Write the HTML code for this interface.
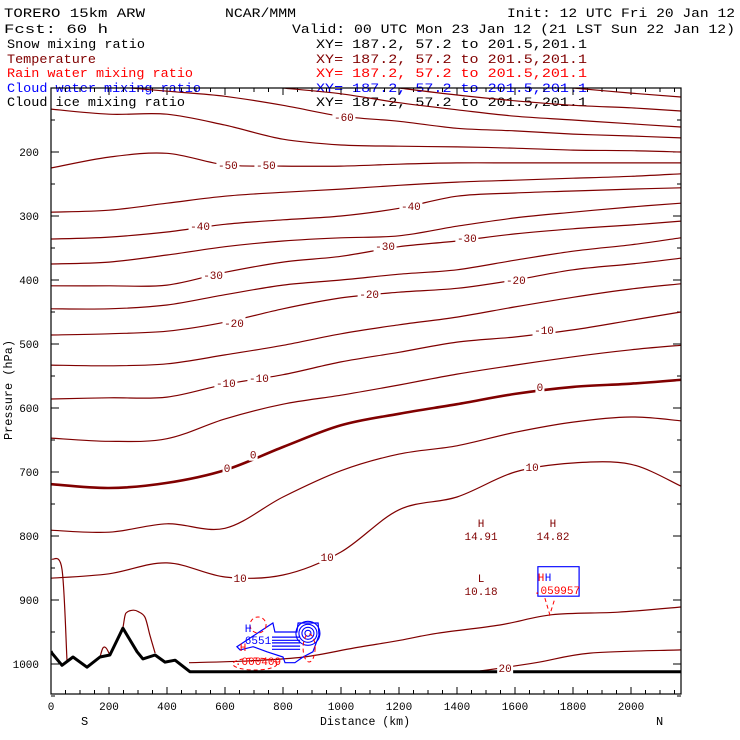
<!DOCTYPE html>
<html><head><meta charset="utf-8"><style>
html,body{margin:0;padding:0;background:#fff;}
svg{display:block;font-family:"Liberation Mono",monospace;}
</style></head><body>
<svg id="chart" width="740" height="740" viewBox="0 0 740 740">
<defs><clipPath id="plotclip"><rect x="51" y="88" width="630" height="606"/></clipPath></defs>
<g id="header" font-size="13">
<text x="4" y="17" textLength="141" lengthAdjust="spacingAndGlyphs">TORERO  15km ARW</text>
<text x="225" y="17" textLength="71" lengthAdjust="spacingAndGlyphs">NCAR/MMM</text>
<text x="507" y="17" textLength="228" lengthAdjust="spacingAndGlyphs">Init: 12 UTC Fri 20 Jan 12</text>
<text x="4" y="33" textLength="104" lengthAdjust="spacingAndGlyphs">Fcst:   60 h</text>
<text x="292" y="33" textLength="443" lengthAdjust="spacingAndGlyphs">Valid: 00 UTC Mon 23 Jan 12 (21 LST Sun 22 Jan 12)</text>
<text x="7" y="48" textLength="138" lengthAdjust="spacingAndGlyphs" fill="#000">Snow mixing ratio</text>
<text x="7" y="63" textLength="89" lengthAdjust="spacingAndGlyphs" fill="#800000">Temperature</text>
<text x="7" y="77" textLength="186" lengthAdjust="spacingAndGlyphs" fill="#ff0000">Rain water mixing ratio</text>
<text x="7" y="92" textLength="194" lengthAdjust="spacingAndGlyphs" fill="#0000ff">Cloud water mixing ratio</text>
<text x="7" y="106" textLength="178" lengthAdjust="spacingAndGlyphs" fill="#000">Cloud ice mixing ratio</text>
<text x="316" y="48" textLength="271" lengthAdjust="spacingAndGlyphs" fill="#000">XY= 187.2, 57.2 to 201.5,201.1</text>
<text x="316" y="63" textLength="271" lengthAdjust="spacingAndGlyphs" fill="#800000">XY= 187.2, 57.2 to 201.5,201.1</text>
<text x="316" y="77" textLength="271" lengthAdjust="spacingAndGlyphs" fill="#ff0000">XY= 187.2, 57.2 to 201.5,201.1</text>
<text x="316" y="92" textLength="271" lengthAdjust="spacingAndGlyphs" fill="#0000ff">XY= 187.2, 57.2 to 201.5,201.1</text>
<text x="316" y="106" textLength="271" lengthAdjust="spacingAndGlyphs" fill="#000">XY= 187.2, 57.2 to 201.5,201.1</text>
</g>
<g id="axes"></g>
<g id="contours" clip-path="url(#plotclip)"></g>
<g id="labels"></g>
<rect x="51" y="88" width="630" height="606" fill="none" stroke="#000" stroke-width="1.2"/>
<text x="12" y="390" font-size="12" text-anchor="middle" transform="rotate(-90 12 390)" textLength="100" lengthAdjust="spacingAndGlyphs">Pressure (hPa)</text>
<text x="320" y="725" font-size="12" textLength="90" lengthAdjust="spacingAndGlyphs">Distance (km)</text>
<text x="81" y="725" font-size="12">S</text>
<text x="656" y="725" font-size="12">N</text>
</svg>
<script>
// ---- data ----
const colKm = [0,200,400,600,800,1000,1200,1400,1600,1800,2000,2172];
const levels = [-75,-70,-65,-60,-55,-50,-45,-40,-35,-30,-25,-20,-15,-10,-5,0,5,10];
const tM75 = [null,null,null,null,null,null,null,null,null,100,108,114];
const tM70 = [null,null,null,null,null,null,100,111,120,127,131,136];
const tM65 = [null,null,null,null,100,109,123,134,144,150,156,161];
const tM60 = [null,97,105,113,127,144,152,163,167,172,175,178];
const tM55 = [133,141,141,158,180,189,191,192,194,197,198,200];
const tM50 = [225,208,202,220,222,222,219,217,217,217,217,217];
const tM45 = [294,291,280,269,263,258,252,247,244,241,238,234];
const tM40 = [336,333,325,313,306,300,288,269,264,261,258,256];
const tM35 = [375,372,361,348,339,334,331,316,303,294,286,280];
const tM30 = [409,409,408,388,372,363,348,339,328,320,314,308];
const tM25 = [445,445,439,423,408,400,391,384,369,355,345,334];
const tM20 = [486,484,480,466,445,428,419,413,400,384,375,366];
const tM15 = [533,534,531,517,502,484,470,458,442,427,414,406];
const tM10 = [586,584,583,563,548,528,513,497,489,478,463,450];
const tM5 = [647,652,648,617,594,580,564,547,533,520,509,502];
const t0 = [719,725,717,697,661,627,609,594,578,567,562,556];
const t5 = [791,794,781,788,739,698,672,659,638,622,614,620];
const t10 = [866,859,842,864,861,825,759,739,700,686,688,722];
const levelSeries = [tM75,tM70,tM65,tM60,tM55,tM50,tM45,tM40,tM35,tM30,tM25,tM20,tM15,tM10,tM5,t0,t5,t10];
const t15aKm = [3,38,55];
const t15aP = [836,852,994];
const t15bKm = [476,686,872,1045,1203,1331,1548,1728,1955,2172];
const t15bP = [998,995,989,975,963,952,939,923,919,911];
const t15loopKm = [248,255,262,283,300,324,341,359];
const t15loopP = [944,925,919,916,918,927,955,983];
const t15smallKm = [169,179,190,203];
const t15smallP = [989,975,975,986];
const t20Km = [1479,1672,1859,2172];
const t20P = [1011,998,983,978];
const terrainKm = [0,3,38,76,124,169,203,248,297,317,359,393,428,479,2172];
const terrainP = [980,983,1002,989,1005,989,986,944,981,992,986,997,994,1012,1012];
const labelText = ["-60","-50","-50","-40","-40","-30","-30","-30","-20","-20","-20","-10","-10","-10","0","0","0","10","10","10","20"];
const labelKm = [1010,610,741,514,1241,559,1152,1434,631,1097,1603,603,717,1700,607,697,1686,652,952,1659,1566];
const labelP = [145,220,220,316,284,392,347,334,467,422,400,561,553,478,694,673,567,866,833,692,1006];
const extremaText = ["H","14.91","H","14.82","L","10.18"];
const extremaKm = [1483,1483,1731,1731,1483,1483];
const extremaP = [780,800,780,800,866,886];
const cloudOuterKm = [765,772,848,852,921,924,903,869,841,807,800,745,697,652,641];
const cloudOuterP = [936,950,950,936,936,955,981,989,998,998,989,981,973,978,973];
const cloudBarP = [958,963,967,972,977];
const cloudBarKm = [762,859];
const cloudRightKm = [1679,1821];
const cloudRightP = [848,894];
const rainDropKm = [1703,1720,1738];
const rainDropP = [897,923,897];
const xTicks = [0,200,400,600,800,1000,1200,1400,1600,1800,2000];
const yTicks = [200,300,400,500,600,700,800,900,1000];

// ---- scales ----
const X = km => 51 + km * 0.29;
const Y = p => 88 + (p - 100) * 0.64;
const NS = "http://www.w3.org/2000/svg";
const BROWN = "#800000";
function mk(tag, parent) { const e = document.createElementNS(NS, tag); parent.appendChild(e); return e; }
function pathFrom(kms, ps, close) {
  let d = "", started = false;
  for (let i = 0; i < kms.length; i++) {
    if (ps[i] == null) { started = false; continue; }
    d += (started ? "L" : "M") + X(kms[i]).toFixed(1) + "," + Y(ps[i]).toFixed(1);
    started = true;
  }
  return d + (close ? "Z" : "");
}
function smoothFrom(kms, ps) {
  const pts = [];
  for (let i = 0; i < kms.length; i++) if (ps[i] != null) pts.push([X(kms[i]), Y(ps[i])]);
  if (pts.length < 3) return pathFrom(kms, ps);
  let d = "M" + pts[0][0].toFixed(1) + "," + pts[0][1].toFixed(1);
  for (let i = 0; i < pts.length - 1; i++) {
    const p0 = pts[Math.max(0, i - 1)], p1 = pts[i], p2 = pts[i + 1], p3 = pts[Math.min(pts.length - 1, i + 2)];
    const c1 = [p1[0] + (p2[0] - p0[0]) / 6, p1[1] + (p2[1] - p0[1]) / 6];
    const c2 = [p2[0] - (p3[0] - p1[0]) / 6, p2[1] - (p3[1] - p1[1]) / 6];
    d += "C" + c1[0].toFixed(1) + "," + c1[1].toFixed(1) + " " + c2[0].toFixed(1) + "," + c2[1].toFixed(1) + " " + p2[0].toFixed(1) + "," + p2[1].toFixed(1);
  }
  return d;
}
const axes = document.getElementById("axes");
const cont = document.getElementById("contours");
const labs = document.getElementById("labels");

// ticks
for (let k = 0; k <= 2150; k += 50) {
  const major = k % 200 === 0;
  const len = major ? 7 : 4;
  const t1 = mk("line", axes);
  t1.setAttribute("x1", X(k)); t1.setAttribute("x2", X(k));
  t1.setAttribute("y1", 694); t1.setAttribute("y2", 694 - len);
  t1.setAttribute("stroke", "#000");
  
  
  const t2 = mk("line", axes);
  t2.setAttribute("x1", X(k)); t2.setAttribute("x2", X(k));
  t2.setAttribute("y1", 88); t2.setAttribute("y2", 88 + len);
  t2.setAttribute("stroke", "#000");
  
  
}
xTicks.forEach(k => {
  const t = mk("text", axes);
  t.setAttribute("x", X(k)); t.setAttribute("y", 710);
  t.setAttribute("font-size", "11"); t.setAttribute("text-anchor", "middle");
  t.textContent = k;
  
  
});
for (let p = 100; p <= 1050; p += 50) {
  const major = p % 100 === 0;
  const len = major ? 8 : 4;
  [[51, 51 + len], [681, 681 - len]].forEach(([a, b]) => {
    const t = mk("line", axes);
    t.setAttribute("x1", a); t.setAttribute("x2", b);
    t.setAttribute("y1", Y(p)); t.setAttribute("y2", Y(p));
    t.setAttribute("stroke", "#000");
    
    
  });
}
yTicks.forEach(p => {
  const t = mk("text", axes);
  t.setAttribute("x", 39); t.setAttribute("y", Y(p) + 4);
  t.setAttribute("font-size", "11"); t.setAttribute("text-anchor", "end");
  t.textContent = p;
  
  
});

// isotherms
levelSeries.forEach((ser, i) => {
  const pth = mk("path", cont);
  pth.setAttribute("d", smoothFrom(colKm, ser));
  pth.setAttribute("fill", "none");
  pth.setAttribute("stroke", BROWN);
  pth.setAttribute("stroke-width", levels[i] === 0 ? 2.6 : 1.2);
  
  
});
[[t15aKm, t15aP], [t15bKm, t15bP], [t15loopKm, t15loopP], [t15smallKm, t15smallP], [t20Km, t20P]].forEach(([a, b], i) => {
  const pth = mk("path", cont);
  pth.setAttribute("d", smoothFrom(a, b));
  pth.setAttribute("fill", "none");
  pth.setAttribute("stroke", BROWN);
  pth.setAttribute("stroke-width", 1.2);
  
  
});

// cloud water (blue)
const co = mk("path", cont);
co.setAttribute("d", pathFrom(cloudOuterKm, cloudOuterP, true));
co.setAttribute("fill", "none"); co.setAttribute("stroke", "#0000ff"); co.setAttribute("stroke-width", 1.2);


cloudBarP.forEach(p => {
  const l = mk("path", cont);
  l.setAttribute("d", pathFrom(cloudBarKm, [p, p]));
  l.setAttribute("stroke", "#0000ff"); l.setAttribute("stroke-width", 1.2);
  
  
});
[3, 6, 9, 12].forEach(r => {
  const c = mk("circle", cont);
  c.setAttribute("cx", X(886)); c.setAttribute("cy", Y(952)); c.setAttribute("r", r);
  c.setAttribute("fill", "none"); c.setAttribute("stroke", "#0000ff"); c.setAttribute("stroke-width", 1.1);
  
  
});
const cr = mk("path", cont);
cr.setAttribute("d", pathFrom([cloudRightKm[0], cloudRightKm[1], cloudRightKm[1], cloudRightKm[0]], [cloudRightP[0], cloudRightP[0], cloudRightP[1], cloudRightP[1]], true));
cr.setAttribute("fill", "none"); cr.setAttribute("stroke", "#0000ff"); cr.setAttribute("stroke-width", 1.2);



// rain (red dashed)
const r1 = mk("circle", cont);
r1.setAttribute("cx", X(714)); r1.setAttribute("cy", Y(939)); r1.setAttribute("r", 8);
r1.setAttribute("fill", "none"); r1.setAttribute("stroke", "#ff0000"); r1.setAttribute("stroke-dasharray", "4 3");


const r2 = mk("ellipse", cont);
r2.setAttribute("cx", X(703)); r2.setAttribute("cy", Y(1000)); r2.setAttribute("rx", 22); r2.setAttribute("ry", 6);
r2.setAttribute("fill", "none"); r2.setAttribute("stroke", "#ff0000"); r2.setAttribute("stroke-dasharray", "4 3");


const r3 = mk("ellipse", cont);
r3.setAttribute("cx", X(890)); r3.setAttribute("cy", Y(975)); r3.setAttribute("rx", 6); r3.setAttribute("ry", 14);
r3.setAttribute("fill", "none"); r3.setAttribute("stroke", "#ff0000"); r3.setAttribute("stroke-dasharray", "4 3");


const r4 = mk("path", cont);
r4.setAttribute("d", pathFrom(rainDropKm, rainDropP));
r4.setAttribute("fill", "none"); r4.setAttribute("stroke", "#ff0000"); r4.setAttribute("stroke-dasharray", "4 3");



// terrain
const ter = mk("path", cont);
ter.setAttribute("d", pathFrom(terrainKm, terrainP));
ter.setAttribute("fill", "none"); ter.setAttribute("stroke", "#000"); ter.setAttribute("stroke-width", 3);
ter.setAttribute("stroke-linejoin", "round");



// contour labels
labelText.forEach((s, i) => {
  const w = s.length * 7 + 2;
  const bg = mk("rect", labs);
  bg.setAttribute("x", X(labelKm[i]) - w / 2); bg.setAttribute("y", Y(labelP[i]) - 6);
  bg.setAttribute("width", w); bg.setAttribute("height", 12); bg.setAttribute("fill", "#fff");
  
  
  const t = mk("text", labs);
  t.setAttribute("x", X(labelKm[i])); t.setAttribute("y", Y(labelP[i]) + 4);
  t.setAttribute("font-size", "11"); t.setAttribute("text-anchor", "middle"); t.setAttribute("fill", BROWN);
  t.textContent = s;
  
  
});
extremaText.forEach((s, i) => {
  const t = mk("text", labs);
  t.setAttribute("x", X(extremaKm[i])); t.setAttribute("y", Y(extremaP[i]) + 4);
  t.setAttribute("font-size", "11"); t.setAttribute("text-anchor", "middle"); t.setAttribute("fill", BROWN);
  t.textContent = s;
  
  
});
const moist = [["H", 248, 632, "#0000ff"], ["6551", 258, 644, "#0000ff"], ["H", 243, 651, "#ff0000"], [".000409", 258, 665, "#ff0000"], ["H", 541, 581, "#ff0000"], ["H", 548, 581, "#0000ff"], [".059957", 557, 594, "#ff0000"]];
moist.forEach(m => {
  const t = mk("text", labs);
  t.setAttribute("x", m[1]); t.setAttribute("y", m[2]);
  t.setAttribute("font-size", "11"); t.setAttribute("text-anchor", "middle"); t.setAttribute("fill", m[3]);
  t.textContent = m[0];
  
  
});
</script>
</body></html>
